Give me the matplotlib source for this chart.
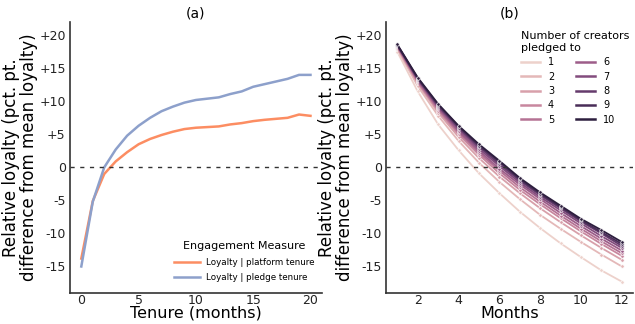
import matplotlib
matplotlib.use("Agg")
import matplotlib.pyplot as plt
import seaborn as sns

# panel (a)
tenure = list(range(21))
platform = [-13.8, -5.1, -1.0, 0.9, 2.3, 3.5, 4.3, 4.9, 5.4, 5.8, 6.0, 6.1, 6.2, 6.5, 6.7, 7.0, 7.2, 7.35, 7.5, 8.0, 7.8]
pledge = [-15.0, -5.2, 0.0, 2.7, 4.8, 6.3, 7.5, 8.5, 9.2, 9.8, 10.2, 10.4, 10.6, 11.1, 11.5, 12.2, 12.6, 13.0, 13.4, 14.0, 14.0]

# panel (b)
months = list(range(1, 13))
n_creators = list(range(1, 11))
loyalty_b = [
    [17.5, 11.5, 6.5, 2.6, -0.9, -3.9, -6.7, -9.2, -11.5, -13.6, -15.6, -17.3],
    [17.9, 12.3, 7.8, 4.0, 0.7, -2.2, -4.8, -7.2, -9.3, -11.3, -13.2, -15.0],
    [18.1, 12.7, 8.3, 4.6, 1.4, -1.4, -3.9, -6.2, -8.3, -10.3, -12.2, -14.0],
    [18.2, 12.9, 8.6, 5.0, 1.9, -0.9, -3.4, -5.6, -7.7, -9.7, -11.6, -13.4],
    [18.3, 13.0, 8.8, 5.3, 2.2, -0.5, -3.0, -5.2, -7.3, -9.3, -11.2, -13.0],
    [18.4, 13.2, 9.0, 5.5, 2.5, -0.2, -2.6, -4.8, -6.9, -8.9, -10.8, -12.6],
    [18.45, 13.3, 9.2, 5.8, 2.8, 0.2, -2.3, -4.5, -6.5, -8.5, -10.4, -12.2],
    [18.5, 13.4, 9.3, 6.0, 3.1, 0.5, -2.0, -4.2, -6.2, -8.2, -10.0, -11.9],
    [18.55, 13.5, 9.5, 6.2, 3.3, 0.8, -1.8, -4.0, -6.0, -8.0, -9.8, -11.6],
    [18.6, 13.6, 9.6, 6.3, 3.5, 1.0, -1.6, -3.8, -5.8, -7.8, -9.5, -11.3],
]

yticks = [-15, -10, -5, 0, 5, 10, 15, 20]
ytick_labels = ["-15", "-10", "-5", "0", "+5", "+10", "+15", "+20"]
ylabel = "Relative loyalty (pct. pt.\ndifference from mean loyalty)"

fig = plt.figure(figsize=(6.35, 3.24), dpi=100)
ax1 = fig.add_axes([0.110, 0.096, 0.397, 0.836])
ax2 = fig.add_axes([0.608, 0.096, 0.389, 0.836])

set2 = sns.color_palette("Set2")
ax1.plot(tenure, platform, color=set2[1], lw=1.8, label="Loyalty | platform tenure")
ax1.plot(tenure, pledge, color=set2[2], lw=1.8, label="Loyalty | pledge tenure")
ax1.set_xticks([0, 5, 10, 15, 20])
ax1.set_xlabel("Tenure (months)", fontsize=11.5, labelpad=-1)
ax1.set_title("(a)", fontsize=10, pad=3)
leg = ax1.legend(title="Engagement Measure", loc="lower right", frameon=False,
                 fontsize=6.3, title_fontsize=8, handlelength=3.0,
                 borderaxespad=0.5, labelspacing=0.75, handletextpad=0.6,
                 bbox_to_anchor=(1.0, 0.01))

cmap = sns.cubehelix_palette(as_cmap=True)
for k, vals in zip(n_creators, loyalty_b):
    c = cmap((k - 1) / 9)
    ax2.plot(months, vals, color=c, lw=1.3, marker="o", markersize=2.5,
             markeredgecolor="white", markeredgewidth=0.5, label=str(k))
ax2.set_xticks([2, 4, 6, 8, 10, 12])
ax2.set_xlabel("Months", fontsize=11.5, labelpad=-1)
ax2.set_title("(b)", fontsize=10, pad=3)
handles, labels = ax2.get_legend_handles_labels()
handles = [plt.Line2D([], [], color=h.get_color(), lw=1.8) for h in handles]
leg2 = ax2.legend(handles, labels, title="Number of creators\npledged to", loc="upper right",
                  ncol=2, frameon=False, fontsize=7, title_fontsize=8,
                  handlelength=2.0, borderaxespad=0.0, labelspacing=0.45,
                  columnspacing=2.2, handletextpad=0.8, bbox_to_anchor=(1.0, 0.98))
leg2._legend_box.align = "left"

for ax in (ax1, ax2):
    ax.axhline(0, color="#333333", ls=(0, (3, 4)), lw=1)
    ax.set_ylim(-19, 22)
    ax.set_yticks(yticks)
    ax.set_yticklabels(ytick_labels)
    ax.set_ylabel(ylabel, fontsize=12, labelpad=1, linespacing=1.0)
    ax.tick_params(axis="y", length=0, labelsize=9, pad=3, colors="#222222")
    ax.tick_params(axis="x", length=0, labelsize=9, pad=1, colors="#222222")
    for s in ("top", "right"):
        ax.spines[s].set_visible(False)
    for s in ("left", "bottom"):
        ax.spines[s].set_color("#333333")
        ax.spines[s].set_linewidth(1.2)

fig.savefig("out.png", dpi=100)
